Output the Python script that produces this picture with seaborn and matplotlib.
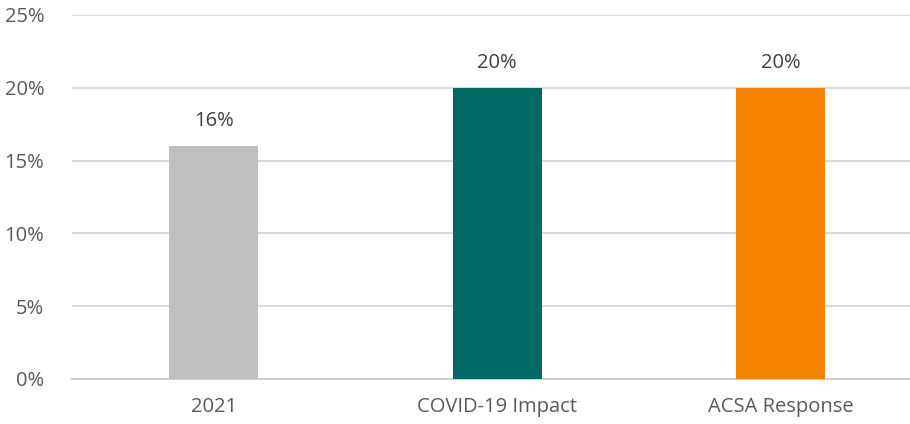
import matplotlib
matplotlib.use("Agg")
import matplotlib.pyplot as plt
import seaborn as sns
import pandas as pd

categories = ["2021", "COVID-19 Impact", "ACSA Response"]
values = [16, 20, 20]
colors = ["#BFBFBF", "#006865", "#F58300"]
yticks = [0, 5, 10, 15, 20, 25]

df = pd.DataFrame({"category": categories, "value": values})

sns.set_theme(style="white")
plt.rcParams["font.family"] = ["Open Sans", "DejaVu Sans"]

fig = plt.figure(figsize=(9.1, 4.24), dpi=100)
ax = fig.add_axes([72 / 910, 1 - 379 / 424, (910 - 72) / 910, (379 - 15) / 424])

sns.barplot(data=df, x="category", y="value", hue="category",
            palette=colors, width=0.314, saturation=1, legend=False,
            linewidth=0, ax=ax, zorder=3)

ax.set_ylim(0, 25)
ax.set_xlim(-0.5, 2.457)
ax.set_yticks(yticks)
ax.set_yticklabels([f"{t}%" for t in yticks])
ax.yaxis.grid(True, color="#D9D9D9", linewidth=1.5, zorder=0)
ax.set_axisbelow(True)
for s in ["top", "right", "left"]:
    ax.spines[s].set_visible(False)
ax.spines["bottom"].set_color("#D0D0D0")
ax.spines["bottom"].set_linewidth(1.5)
ax.set_xlabel("")
ax.set_ylabel("")
ax.tick_params(axis="both", length=0, labelsize=14.5, labelcolor="#595959")
ax.tick_params(axis="y", pad=20)
ax.tick_params(axis="x", pad=13)

for i, v in enumerate(values):
    ax.annotate(f"{v}%", (i, v), xytext=(0, 11), textcoords="offset points",
                ha="center", va="bottom", fontsize=14.5, color="#404040")

fig.savefig("out.png", dpi=100)
